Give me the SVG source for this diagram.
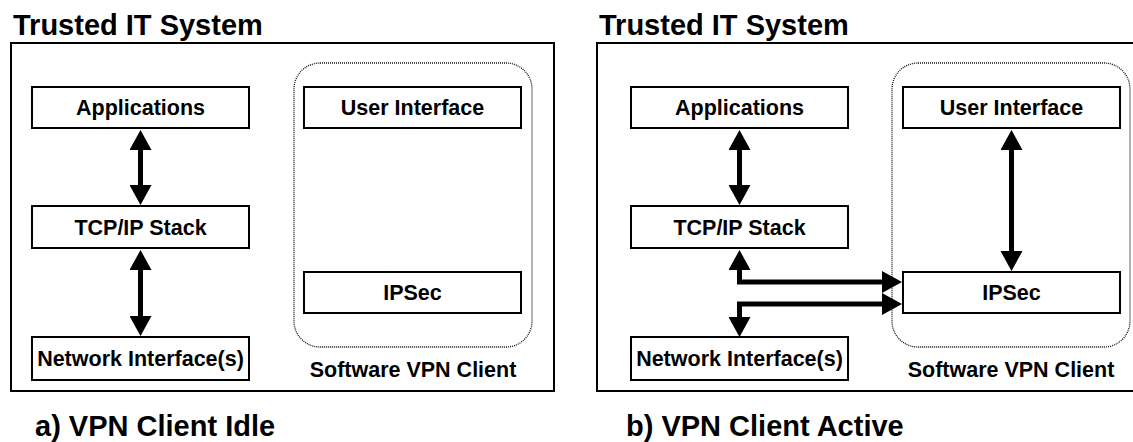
<svg xmlns="http://www.w3.org/2000/svg" width="1133" height="442" viewBox="0 0 1133 442">
  <style>
    .t { font-family: "Liberation Sans", Arial, sans-serif; font-weight: bold; fill: #000; }
    .title { font-size: 29px; }
    .lbl { font-size: 21.5px; text-anchor: middle; }
    .outer { fill: #fff; stroke: #000; stroke-width: 2; }
    .box { fill: #fff; stroke: #000; stroke-width: 2; }
    .grp { fill: none; stroke: #111; stroke-width: 1.3; stroke-dasharray: 1 1; }
    .arr { fill: none; stroke: #000; stroke-width: 5; marker-start: url(#ah); marker-end: url(#ah); }
  </style>
  <defs>
    <marker id="ah" markerUnits="userSpaceOnUse" viewBox="0 0 20 22" refX="15" refY="11" markerWidth="20" markerHeight="22" orient="auto-start-reverse">
      <path d="M0,0 L20,11 L0,22 z" fill="#000"/>
    </marker>
  </defs>
  <rect width="1133" height="442" fill="#fff"/>

  <!-- Panel a -->
  <g id="panel-a">
    <text class="t title" x="13" y="35">Trusted IT System</text>
    <rect class="outer" x="11" y="43" width="543" height="348"/>
    <rect id="vpn-a" class="grp" x="294" y="63" width="238" height="284" rx="26" ry="26"/>
    <text class="t lbl" x="413" y="377">Software VPN Client</text>
    <text class="t title" x="35" y="436">a) VPN Client Idle</text>
  </g>
  <g id="apps-a"><rect class="box" x="32" y="87" width="217" height="41"/><text class="t lbl" x="140.5" y="115">Applications</text></g>
  <g id="tcp-a"><rect class="box" x="32" y="206" width="217" height="42"/><text class="t lbl" x="140.5" y="234.5">TCP/IP Stack</text></g>
  <g id="net-a"><rect class="box" x="32" y="337" width="217" height="43"/><text class="t lbl" x="140.5" y="366">Network Interface(s)</text></g>
  <g id="ui-a"><rect class="box" x="304" y="87" width="217" height="41"/><text class="t lbl" x="412.5" y="115">User Interface</text></g>
  <g id="ipsec-a"><rect class="box" x="304" y="272" width="217" height="41"/><text class="t lbl" x="412.5" y="300">IPSec</text></g>

  <!-- Panel b -->
  <g id="panel-b">
    <text class="t title" x="599" y="35">Trusted IT System</text>
    <rect class="outer" x="597" y="43" width="545" height="348"/>
    <rect id="vpn-b" class="grp" x="892" y="63" width="238" height="284" rx="26" ry="26"/>
    <text class="t lbl" x="1011" y="377">Software VPN Client</text>
    <text class="t title" x="626" y="436">b) VPN Client Active</text>
  </g>
  <g id="apps-b"><rect class="box" x="631" y="87" width="217" height="41"/><text class="t lbl" x="739.5" y="115">Applications</text></g>
  <g id="tcp-b"><rect class="box" x="631" y="206" width="217" height="42"/><text class="t lbl" x="739.5" y="234.5">TCP/IP Stack</text></g>
  <g id="net-b"><rect class="box" x="631" y="337" width="217" height="43"/><text class="t lbl" x="739.5" y="366">Network Interface(s)</text></g>
  <g id="ui-b"><rect class="box" x="903" y="87" width="217" height="41"/><text class="t lbl" x="1011.5" y="115">User Interface</text></g>
  <g id="ipsec-b"><rect class="box" x="903" y="272" width="217" height="41"/><text class="t lbl" x="1011.5" y="300">IPSec</text></g>

  <g id="connectors">
    <path class="arr" d="M140.5,135 V200"/>
    <path class="arr" d="M140.5,255 V331"/>
    <path class="arr" d="M739.5,135 V200"/>
    <path class="arr" d="M1011.5,135 V266"/>
    <path class="arr" d="M739.5,255 V282 H897"/>
    <path class="arr" d="M739.5,332 V304 H897"/>
  </g>
</svg>
